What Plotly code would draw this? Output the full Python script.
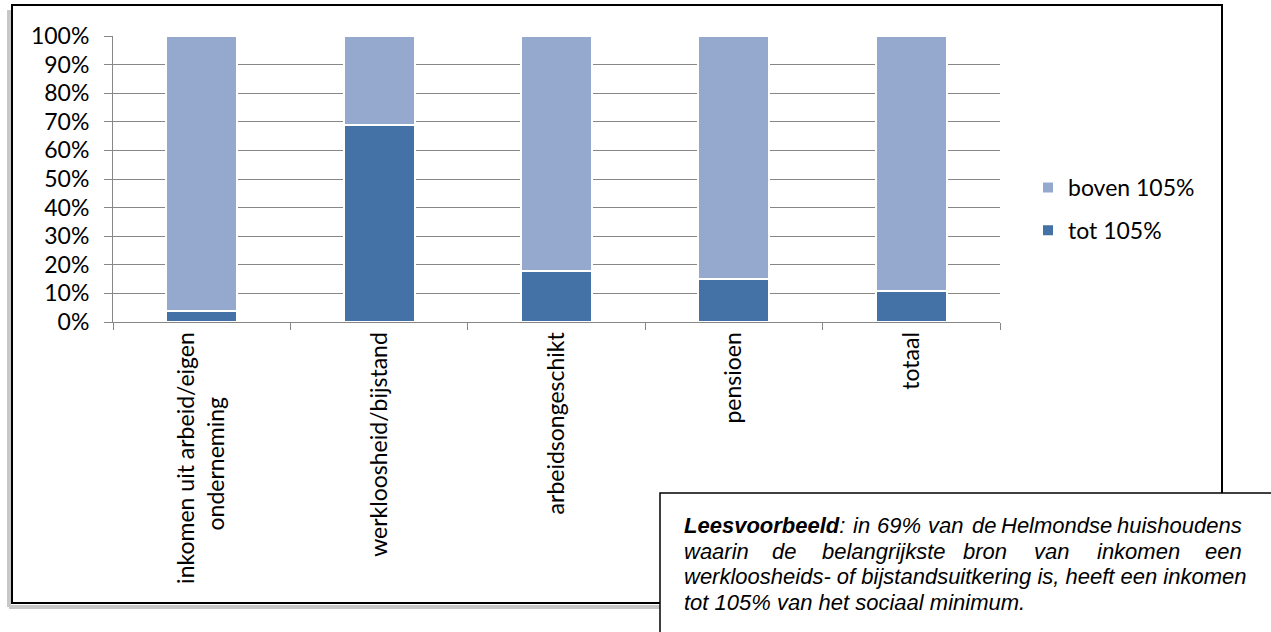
import plotly.graph_objects as go

# ---- data ----
NB = "\u00a0"
categories = ["inkomen uit arbeid/eigen<br>onderneming" + NB * 11, "werkloosheid/bijstand",
              "arbeidsongeschikt", "pensioen", "totaal"]
tot_105 = [4, 69, 18, 15, 11]
boven_105 = [100 - v for v in tot_105]
y_ticks = [0, 10, 20, 30, 40, 50, 60, 70, 80, 90, 100]
y_tick_labels = [f"{v}%" for v in y_ticks]
series_names = ["tot 105%", "boven 105%"]
note_lines = [
    "<b>Leesvoorbeeld</b>: in 69% van de Helmondse huishoudens",
    "waarin de belangrijkste bron van inkomen een",
    "werkloosheids- of bijstandsuitkering is, heeft een inkomen",
    "tot 105% van het sociaal minimum.",
]

# ---- layout helpers (window pixel -> paper) ----
W, H = 1271, 632
L, R, T, B = 113, 1000, 36, 322   # plot area in pixels
def px(x):
    return (x - L) / (R - L)
def py(y):
    return (B - y) / (B - T)

DARK = "#4572A6"
LIGHT = "#95A9CF"
FONT = "Lato"

fig = go.Figure()
fig.add_trace(go.Bar(x=categories, y=tot_105, name=series_names[0], marker_color=DARK,
                     marker_line=dict(color="white", width=2), legendgroup="a", legendrank=2))
fig.add_trace(go.Bar(x=categories, y=boven_105, name=series_names[1], marker_color=LIGHT,
                     marker_line=dict(color="white", width=2), legendgroup="b", legendrank=1))

shapes = []
# frame shadow
shapes.append(dict(type="line", xref="paper", yref="paper", x0=px(9), x1=px(9), y0=py(10), y1=py(607),
                   line=dict(color="#c8c8c8", width=4), layer="below"))
shapes.append(dict(type="line", xref="paper", yref="paper", x0=px(9), x1=px(1218), y0=py(607), y1=py(607),
                   line=dict(color="#c8c8c8", width=4), layer="below"))
# outer frame
shapes.append(dict(type="rect", xref="paper", yref="paper", x0=px(12), x1=px(1222), y0=py(5), y1=py(603),
                   line=dict(color="black", width=2), fillcolor="rgba(0,0,0,0)"))
# note box
shapes.append(dict(type="rect", xref="paper", yref="paper", x0=px(660), x1=px(1290), y0=py(493), y1=py(650),
                   line=dict(color="black", width=1.5), fillcolor="white"))

annotations = []
line_y = [525, 551, 576, 602]
note_font = dict(family="Liberation Sans", size=22, color="black", style="italic")

def place_words(words, xs, y, last_right=1244):
    for w, x in zip(words[:-1], xs):
        annotations.append(dict(xref="paper", yref="paper", x=px(x), y=py(y), xanchor="left",
                                yanchor="middle", text=w, showarrow=False, font=note_font))
    annotations.append(dict(xref="paper", yref="paper", x=px(last_right), y=py(y), xanchor="right",
                            yanchor="middle", text=words[-1], showarrow=False, font=note_font))

# justified lines 1 and 2, word by word
place_words(note_lines[0].split(" "), [682, 851, 875, 926, 970, 999], line_y[0])
place_words(note_lines[1].split(" "), [682, 770, 820, 961, 1032, 1095], line_y[1])
# line 3 and 4
for txt, y in zip(note_lines[2:], line_y[2:]):
    annotations.append(dict(xref="paper", yref="paper", x=px(682), y=py(y), xanchor="left", yanchor="middle",
                            text=txt, showarrow=False, font=note_font))

fig.update_layout(
    width=W, height=H,
    margin=dict(l=L, r=W - R, t=T, b=H - B, pad=0),
    paper_bgcolor="white", plot_bgcolor="white",
    barmode="stack", bargap=0.6,
    font=dict(family=FONT, size=23, color="black"),
    legend=dict(x=px(1028), xanchor="left", y=py(166), yanchor="top", traceorder="grouped",
                tracegroupgap=10, font=dict(family=FONT, size=23), bgcolor="rgba(0,0,0,0)"),
    shapes=shapes, annotations=annotations,
)
fig.update_yaxes(range=[0, 100], tickvals=y_ticks, ticktext=y_tick_labels,
                 showgrid=True, gridcolor="#878787", gridwidth=1,
                 showline=True, linecolor="#878787", linewidth=1,
                 ticks="outside", ticklen=8, tickcolor="#878787",
                 ticklabelstandoff=10, zeroline=False)
fig.update_xaxes(tickangle=-90, showline=True, linecolor="#878787", linewidth=1,
                 ticks="outside", ticklen=7, tickcolor="#878787", tickson="boundaries",
                 showgrid=False)

fig.write_html("out.html", config={"displayModeBar": False},
               post_script="document.body.style.margin='0';document.body.style.overflow='hidden';")
